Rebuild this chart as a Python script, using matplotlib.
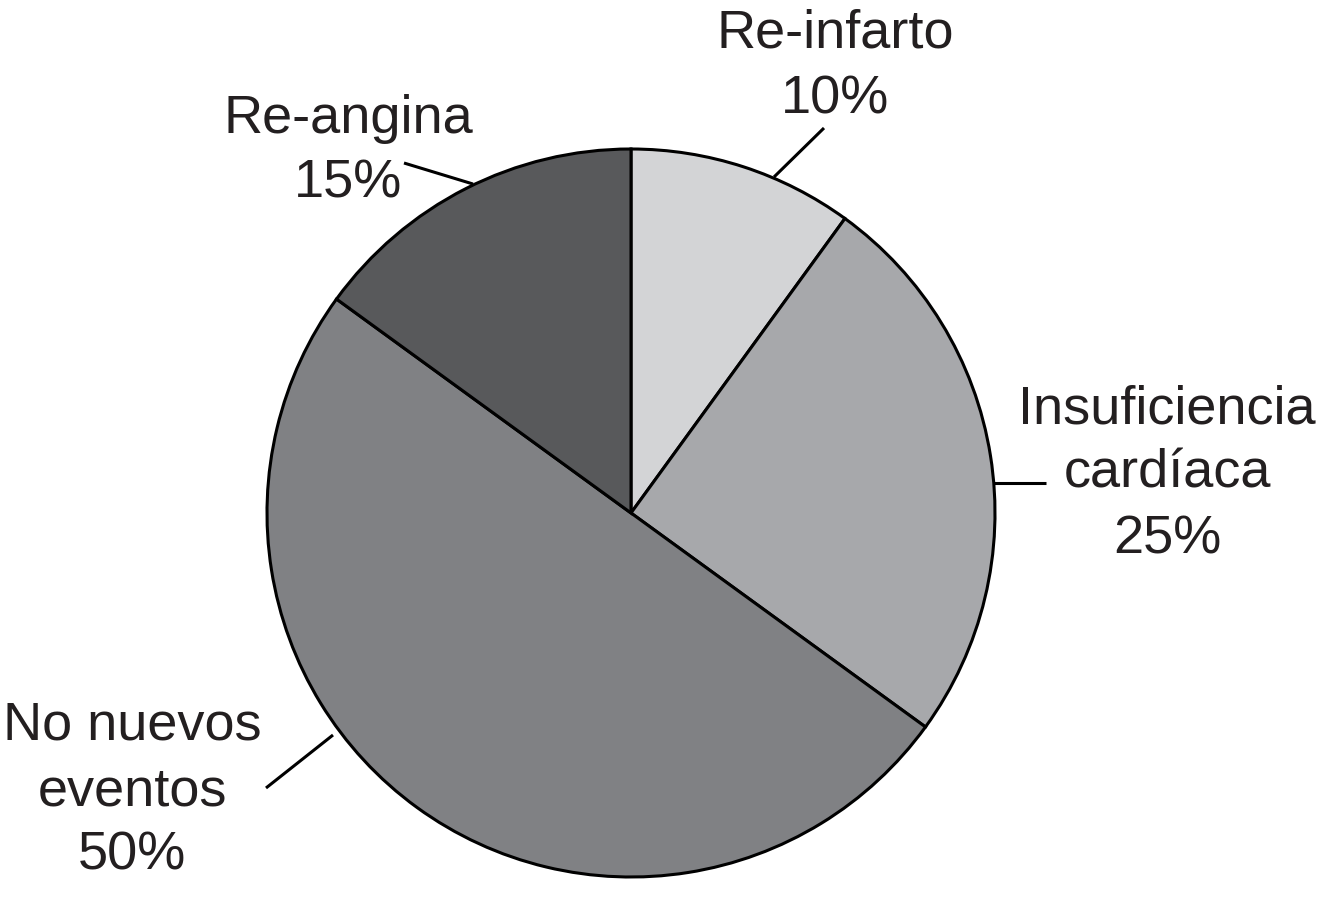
import matplotlib
matplotlib.use("Agg")
import matplotlib.pyplot as plt

labels = ["Re-infarto", "Insuficiencia\ncardíaca", "No nuevos\neventos", "Re-angina"]
values = [10, 25, 50, 15]
colors = ["#d3d4d6", "#a7a8ab", "#808184", "#58595b"]

W, H = 1320, 899
fig = plt.figure(figsize=(W / 100, H / 100), dpi=100)
ax = fig.add_axes([0, 0, 1, 1])
ax.set_xlim(0, W)
ax.set_ylim(0, H)
ax.set_aspect("equal")
ax.axis("off")

cx, cy, r = 631, H - 513, 364
ax.pie(values, colors=colors, startangle=90, counterclock=False,
       center=(cx, cy), radius=r, frame=True,
       wedgeprops=dict(edgecolor="black", linewidth=2.2))
ax.set_xlim(0, W)
ax.set_ylim(0, H)
ax.axis("off")

# label layout (pixel coords, top-left origin): text center x, baseline of first line, leader line
layout = [
    (835, 48, [(774, 177), (824, 128)]),
    (1167, 423, [(993, 483), (1046, 483)]),
    (132, 740, [(333, 735), (266, 788)]),
    (348, 133, [(473, 184), (404, 163)]),
]
line_gap = 65
font = dict(family=["Liberation Sans", "DejaVu Sans"], fontsize=39, color="#231f20")
for lab, val, (tx, ty, seg) in zip(labels, values, layout):
    lines = lab.split("\n") + [f"{val}%"]
    for i, ln in enumerate(lines):
        ax.text(tx, H - (ty + i * line_gap), ln, ha="center", va="baseline", **font)
    (x0, y0), (x1, y1) = seg
    ax.plot([x0, x1], [H - y0, H - y1], color="black", lw=2.2, solid_capstyle="butt")

fig.savefig("out.png", dpi=100)
